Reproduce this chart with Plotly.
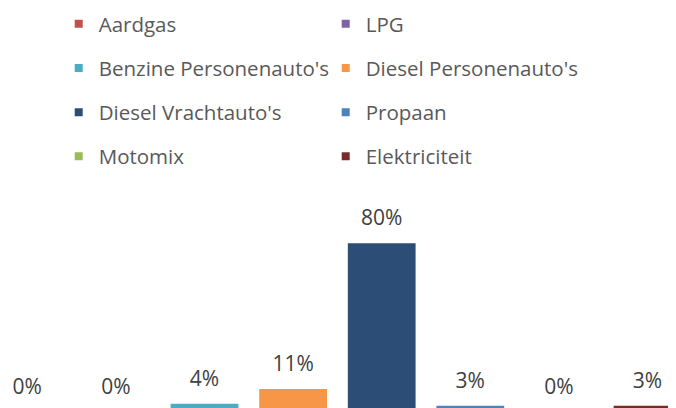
import plotly.graph_objects as go

categories = ["Aardgas", "LPG", "Benzine Personenauto's", "Diesel Personenauto's",
              "Diesel Vrachtauto's", "Propaan", "Motomix", "Elektriciteit"]
values = [0.00, 0.00, 0.04, 0.11, 0.80, 0.03, 0.00, 0.03]
colors = ["#C0504D", "#8064A2", "#4BACC6", "#F79646",
          "#2C4D75", "#4F81BD", "#9BBB59", "#772C2A"]

FONT = "Open Sans"
fig = go.Figure()

for i, (c, v, col) in enumerate(zip(categories, values, colors)):
    fig.add_trace(go.Bar(x=[c], y=[v], marker=dict(color=col, line=dict(width=0)),
                         width=0.765, showlegend=False, hoverinfo="skip"))

# data labels
fig.add_trace(go.Scatter(x=categories, y=values, mode="markers+text",
                         marker=dict(size=19, opacity=0),
                         text=[f"{round(v*100)}%" for v in values],
                         textposition="top center",
                         textfont=dict(family=FONT, size=21, color="#404040"),
                         showlegend=False, hoverinfo="skip", cliponaxis=False))

# legend entries (two columns, row-major like the original)
for i, (c, col) in enumerate(zip(categories, colors)):
    fig.add_trace(go.Scatter(x=[None], y=[None], mode="markers", name=c,
                             marker=dict(symbol="square", size=8, color=col),
                             legend="legend" if i % 2 == 0 else "legend2",
                             legendgroup=c, showlegend=True))

legend_common = dict(orientation="v", yanchor="top", xanchor="left",
                     font=dict(family=FONT, size=20.5, color="#595959"),
                     tracegroupgap=14.5, bgcolor="rgba(0,0,0,0)", borderwidth=0)

fig.update_layout(
    width=676, height=408,
    margin=dict(l=0, r=0, t=182, b=0, autoexpand=False),
    paper_bgcolor="white", plot_bgcolor="white",
    barmode="overlay",
    xaxis=dict(type="category", categoryorder="array", categoryarray=categories,
               range=[-0.218, 7.412], visible=False, fixedrange=True),
    yaxis=dict(range=[-0.018, 1.0526], visible=False, fixedrange=True),
    legend=dict(x=0.075, y=1.823, **legend_common),
    legend2=dict(x=0.47, y=1.823, **legend_common),
    font=dict(family=FONT),
)

fig.write_html("out.html")
